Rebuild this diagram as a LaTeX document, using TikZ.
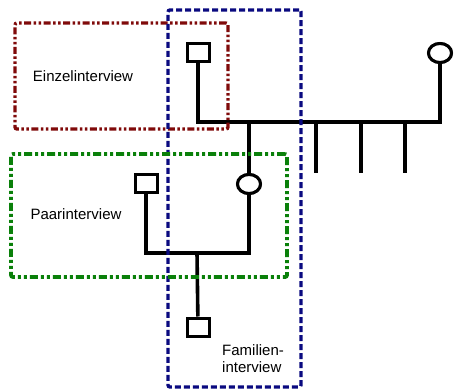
\documentclass[tikz,border=0pt]{standalone}
\usepackage{fontspec}
\setmainfont{Liberation Sans}
\usetikzlibrary{shapes.geometric}
\definecolor{boxred}{RGB}{128,10,10}
\definecolor{boxgreen}{RGB}{10,128,10}
\definecolor{boxblue}{RGB}{10,10,128}
\tikzset{
  kin/.style={line width=3.6pt, black},
  male/.style={draw, line width=3pt, rectangle, minimum width=22pt, minimum height=18pt, inner sep=0pt, fill=white},
  female/.style={draw, line width=3pt, ellipse, minimum width=23pt, minimum height=19pt, inner sep=0pt, fill=white},
  lbl/.style={font=\fontsize{15}{17}\selectfont, align=left, inner sep=0pt},
  redbox/.style={draw=boxred, line width=3.4pt, rounded corners=2pt, rectangle, inner sep=0pt,
    dash pattern=on 7pt off 2.5pt on 2.5pt off 2.5pt on 2.5pt off 2.5pt},
  greenbox/.style={draw=boxgreen, line width=3.8pt, rounded corners=2pt, rectangle, inner sep=0pt,
    dash pattern=on 8pt off 3pt on 3pt off 3pt on 3pt off 3pt},
  bluebox/.style={draw=boxblue, line width=3.4pt, rounded corners=2pt, rectangle, inner sep=0pt,
    dash pattern=on 6pt off 3pt},
}
\begin{document}
\begin{tikzpicture}[x=1pt,y=-1pt]
\useasboundingbox (0,0) rectangle (454,390);
% people
\node[male] (s1) at (198,53) {};
\node[female] (c1) at (440,53) {};
\node[female] (c2) at (249,184) {};
\node[male] (s2) at (146,183) {};
\node[male] (s3) at (198,327) {};
% junctions
\coordinate (j1) at (249,122);
\coordinate (j2) at (197,253);
\coordinate (d1) at (316,122); \coordinate (d1e) at (316,173);
\coordinate (d2) at (361,122); \coordinate (d2e) at (361,173);
\coordinate (d3) at (405,122); \coordinate (d3e) at (405,173);
% lines
\draw[kin] (s1) |- (j1) -| (c1);
\draw[kin] (j1) -- (c2);
\draw[kin] (d1) -- (d1e);
\draw[kin] (d2) -- (d2e);
\draw[kin] (d3) -- (d3e);
\draw[kin] (s2) |- (j2) -| (c2);
\draw[kin] (j2) -- (s3);
% redraw people on top
\node[male] at (s1) {};
\node[female] at (c1) {};
\node[female] at (c2) {};
\node[male] at (s2) {};
\node[male] at (s3) {};
% boxes
\node[redbox, minimum width=213pt, minimum height=106pt] (rb) at (121.5,76) {};
\node[bluebox, minimum width=133pt, minimum height=377pt] (bb) at (234.5,198.5) {};
\node[greenbox, minimum width=276pt, minimum height=123pt] (gb) at (149,215.5) {};
% labels
\node[lbl] (t1) at (83,76) {Einzelinterview};
\node[lbl] (t2) at (76,214) {Paarinterview};
\node[lbl, anchor=west] (t3) at (222,359) {Familien-\\interview};
\end{tikzpicture}
\end{document}
